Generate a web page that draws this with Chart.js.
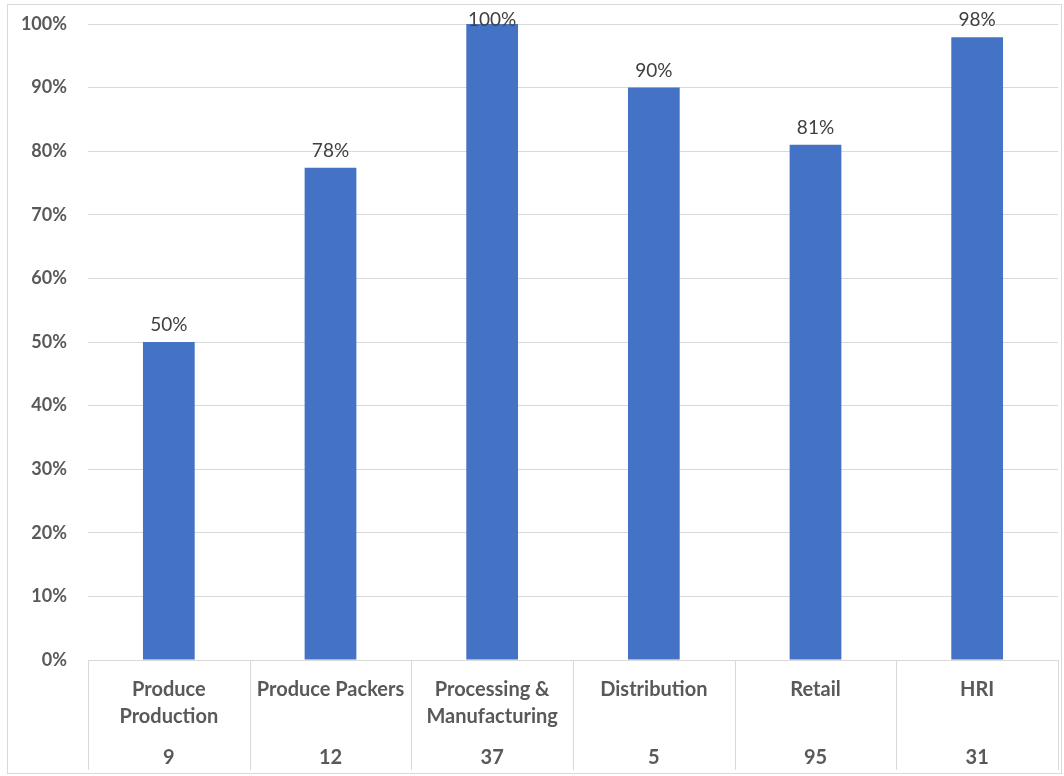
<!DOCTYPE html>
<html>
<head>
<meta charset="utf-8">
<script src="https://cdn.jsdelivr.net/npm/chart.js@4.4.1/dist/chart.umd.min.js"></script>
<style>
  html, body { margin: 0; padding: 0; background: #ffffff; }
  #wrap { width: 1064px; height: 776px; position: relative; }
</style>
</head>
<body>
<div id="wrap"><canvas id="c" width="1064" height="776"></canvas></div>
<script>
const categories = [["Produce", "Production"], ["Produce Packers"], ["Processing &", "Manufacturing"], ["Distribution"], ["Retail"], ["HRI"]];
const counts = ["9", "12", "37", "5", "95", "31"];
const values = [50, 77.4, 100, 90, 81, 97.9];
const valueLabels = ["50%", "78%", "100%", "90%", "81%", "98%"];
const yTicks = [0, 10, 20, 30, 40, 50, 60, 70, 80, 90, 100];

const FONT = "Lato, 'Open Sans', sans-serif";

const framePlugin = {
  id: 'frame',
  beforeDraw(chart) {
    const ctx = chart.ctx;
    ctx.save();
    ctx.fillStyle = '#ffffff';
    ctx.fillRect(0, 0, chart.width, chart.height);
    ctx.strokeStyle = '#d9d9d9';
    ctx.lineWidth = 1;
    ctx.strokeRect(7.5, 4.5, 1054, 769);
    ctx.restore();
  }
};

const separatorPlugin = {
  id: 'separators',
  afterDraw(chart) {
    const ctx = chart.ctx;
    const xs = chart.scales.x;
    const top = chart.chartArea.bottom;
    ctx.save();
    ctx.strokeStyle = '#d9d9d9';
    ctx.lineWidth = 1;
    for (let i = 0; i <= categories.length; i++) {
      const x = Math.round(xs.getPixelForValue(i - 0.5)) + 0.5;
      ctx.beginPath();
      ctx.moveTo(x, top);
      ctx.lineTo(x, 770);
      ctx.stroke();
    }
    ctx.restore();
  }
};

const valueLabelPlugin = {
  id: 'valueLabels',
  afterDatasetsDraw(chart) {
    const ctx = chart.ctx;
    const meta = chart.getDatasetMeta(0);
    const minBaseline = chart.chartArea.top + 2;
    ctx.save();
    ctx.font = "19px " + FONT;
    ctx.fillStyle = '#404040';
    ctx.textAlign = 'center';
    ctx.textBaseline = 'alphabetic';
    meta.data.forEach((bar, i) => {
      ctx.fillText(valueLabels[i], bar.x, Math.max(bar.y - 11, minBaseline));
    });
    ctx.restore();
  }
};

new Chart(document.getElementById('c'), {
  type: 'bar',
  data: {
    labels: categories,
    datasets: [{
      data: values,
      backgroundColor: '#4472C4',
      borderWidth: 0,
      barPercentage: 0.32,
      categoryPercentage: 1.0,
      xAxisID: 'x',
      yAxisID: 'y'
    }]
  },
  options: {
    responsive: false,
    animation: false,
    devicePixelRatio: 1,
    layout: { padding: { left: 0, top: 0, right: 6, bottom: 0 } },
    plugins: {
      legend: { display: false },
      tooltip: { enabled: false }
    },
    scales: {
      y: {
        min: 0,
        max: 100,
        afterBuildTicks(scale) { scale.ticks = yTicks.map(v => ({ value: v })); },
        afterFit(scale) { scale.width = 88; scale.paddingTop = 24; },
        ticks: {
          callback: v => v + '%',
          font: { family: FONT, size: 18, weight: 'bold' },
          color: '#595959',
          padding: 21
        },
        grid: { color: '#d9d9d9', drawTicks: false, lineWidth: 1 },
        border: { display: false }
      },
      x: {
        position: 'bottom',
        offset: true,
        afterFit(scale) { scale.height = 70; },
        ticks: {
          font: { family: FONT, size: 20, weight: 'bold', lineHeight: 1.35 },
          color: '#595959',
          padding: 16,
          autoSkip: false,
          maxRotation: 0,
          minRotation: 0
        },
        grid: { display: false, drawTicks: false },
        border: { display: true, color: '#d9d9d9' }
      },
      x2: {
        type: 'category',
        position: 'bottom',
        labels: counts,
        offset: true,
        afterFit(scale) { scale.height = 46; },
        ticks: {
          font: { family: FONT, size: 20, weight: 'bold' },
          color: '#595959',
          padding: 16,
          autoSkip: false,
          maxRotation: 0,
          minRotation: 0
        },
        grid: { display: false, drawTicks: false },
        border: { display: false }
      }
    }
  },
  plugins: [framePlugin, separatorPlugin, valueLabelPlugin]
});
</script>
</body>
</html>
